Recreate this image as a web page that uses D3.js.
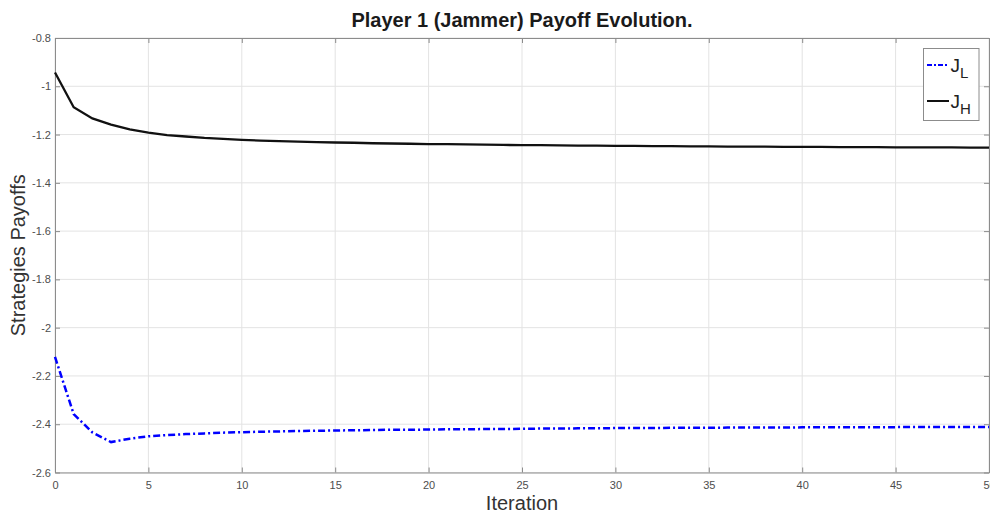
<!DOCTYPE html>
<html>
<head>
<meta charset="utf-8">
<script src="https://cdn.jsdelivr.net/npm/d3@7"></script>
<style>
  body { margin: 0; background: #fff; }
  svg { display: block; font-family: "Liberation Sans", Arial, sans-serif; }
</style>
</head>
<body>
<div id="chart"></div>
<script>
const iterations = d3.range(0, 51);
// J_H (black solid) and J_L (blue dash-dot)
const payoffH = [-0.943, -1.087, -1.133, -1.159, -1.179, -1.192, -1.202, -1.208, -1.214, -1.218,
  -1.222, -1.225, -1.227, -1.229, -1.231, -1.233, -1.234, -1.236, -1.237, -1.238,
  -1.240, -1.240, -1.241, -1.242, -1.243, -1.244, -1.244, -1.245, -1.246, -1.246,
  -1.247, -1.247, -1.248, -1.248, -1.249, -1.249, -1.250, -1.250, -1.250, -1.251,
  -1.251, -1.251, -1.252, -1.252, -1.252, -1.253, -1.253, -1.253, -1.253, -1.254, -1.254];
const payoffL = [-2.121, -2.358, -2.434, -2.474, -2.460, -2.450, -2.445, -2.441, -2.438, -2.435,
  -2.433, -2.431, -2.430, -2.428, -2.427, -2.426, -2.425, -2.424, -2.423, -2.423,
  -2.422, -2.421, -2.421, -2.420, -2.420, -2.419, -2.418, -2.418, -2.417, -2.417,
  -2.416, -2.416, -2.416, -2.415, -2.415, -2.415, -2.414, -2.414, -2.414, -2.414,
  -2.413, -2.413, -2.413, -2.413, -2.413, -2.412, -2.412, -2.412, -2.412, -2.412, -2.412];
const xTicks = [0, 5, 10, 15, 20, 25, 30, 35, 40, 45, 50];
const yTicks = [-2.6, -2.4, -2.2, -2, -1.8, -1.6, -1.4, -1.2, -1, -0.8];

const width = 990, height = 513;
const margin = { top: 38, right: 1, bottom: 40.5, left: 55 };
const w = width - margin.left - margin.right;
const h = height - margin.top - margin.bottom;

const svg = d3.select('#chart').append('svg').attr('width', width).attr('height', height);
const g = svg.append('g').attr('transform', `translate(${margin.left},${margin.top})`);

const x = d3.scaleLinear().domain([0, 50]).range([0, w]);
const y = d3.scaleLinear().domain([-2.6, -0.8]).range([h, 0]);

// grid
g.append('g').selectAll('line').data(xTicks).enter().append('line')
  .attr('x1', d => x(d)).attr('x2', d => x(d)).attr('y1', 0).attr('y2', h)
  .attr('stroke', '#e3e3e3').attr('stroke-width', 1);
g.append('g').selectAll('line').data(yTicks).enter().append('line')
  .attr('x1', 0).attr('x2', w).attr('y1', d => y(d)).attr('y2', d => y(d))
  .attr('stroke', '#e3e3e3').attr('stroke-width', 1);

// axes (MATLAB style: ticks inward on all four sides)
const plain = d => String(d);
const axisStyle = sel => {
  sel.selectAll('.domain').attr('stroke', '#8c8c8c');
  sel.selectAll('.tick line').attr('stroke', '#8c8c8c');
  sel.selectAll('.tick text').attr('fill', '#4d4d4d').style('font-size', '11px');
};
g.append('g').attr('transform', `translate(0,${h})`)
  .call(d3.axisBottom(x).tickValues(xTicks).tickSize(-5).tickSizeOuter(0).tickPadding(9).tickFormat(plain))
  .call(axisStyle);
g.append('g')
  .call(d3.axisTop(x).tickValues(xTicks).tickSize(-5).tickSizeOuter(0).tickFormat(''))
  .call(axisStyle);
g.append('g')
  .call(d3.axisLeft(y).tickValues(yTicks).tickSize(-5).tickSizeOuter(0).tickPadding(4).tickFormat(plain))
  .call(axisStyle);
g.append('g').attr('transform', `translate(${w},0)`)
  .call(d3.axisRight(y).tickValues(yTicks).tickSize(-5).tickSizeOuter(0).tickFormat(''))
  .call(axisStyle);

// lines
const line = d3.line().x((d, i) => x(iterations[i])).y(d => y(d));
g.append('path').datum(payoffH).attr('d', line)
  .attr('fill', 'none').attr('stroke', '#111').attr('stroke-width', 2.3);
g.append('path').datum(payoffL).attr('d', line)
  .attr('fill', 'none').attr('stroke', '#0000ff').attr('stroke-width', 2.5)
  .attr('stroke-dasharray', '7,3,2,3');

// title and labels
svg.append('text').attr('x', margin.left + w / 2).attr('y', 27).attr('text-anchor', 'middle')
  .style('font-size', '20px').style('font-weight', 'bold').attr('fill', '#1a1a1a')
  .text('Player 1 (Jammer) Payoff Evolution.');
svg.append('text').attr('x', margin.left + w / 2).attr('y', 510).attr('text-anchor', 'middle')
  .style('font-size', '20px').attr('fill', '#333').text('Iteration');
svg.append('text').attr('transform', `translate(25,${margin.top + h / 2}) rotate(-90)`)
  .attr('text-anchor', 'middle').style('font-size', '20px').attr('fill', '#333')
  .text('Strategies Payoffs');

// legend
const legend = svg.append('g').attr('transform', 'translate(923.5,48.5)');
legend.append('rect').attr('width', 55.5).attr('height', 72)
  .attr('fill', '#fff').attr('stroke', '#8c8c8c').attr('stroke-width', 1);
const entries = [
  { main: 'J', sub: 'L', color: '#0000ff', dash: '5,2,2,2', ly: 16.5 },
  { main: 'J', sub: 'H', color: '#111', dash: null, ly: 52.5 }
];
entries.forEach(e => {
  legend.append('line').attr('x1', 3.5).attr('x2', 25.5).attr('y1', e.ly).attr('y2', e.ly)
    .attr('stroke', e.color).attr('stroke-width', 2).attr('stroke-dasharray', e.dash);
  const t = legend.append('text').attr('x', 27).attr('y', e.ly + 7).attr('fill', '#222')
    .style('font-size', '19px');
  t.append('tspan').text(e.main);
  t.append('tspan').attr('dy', 6).style('font-size', '15px').text(e.sub);
});
</script>
</body>
</html>
